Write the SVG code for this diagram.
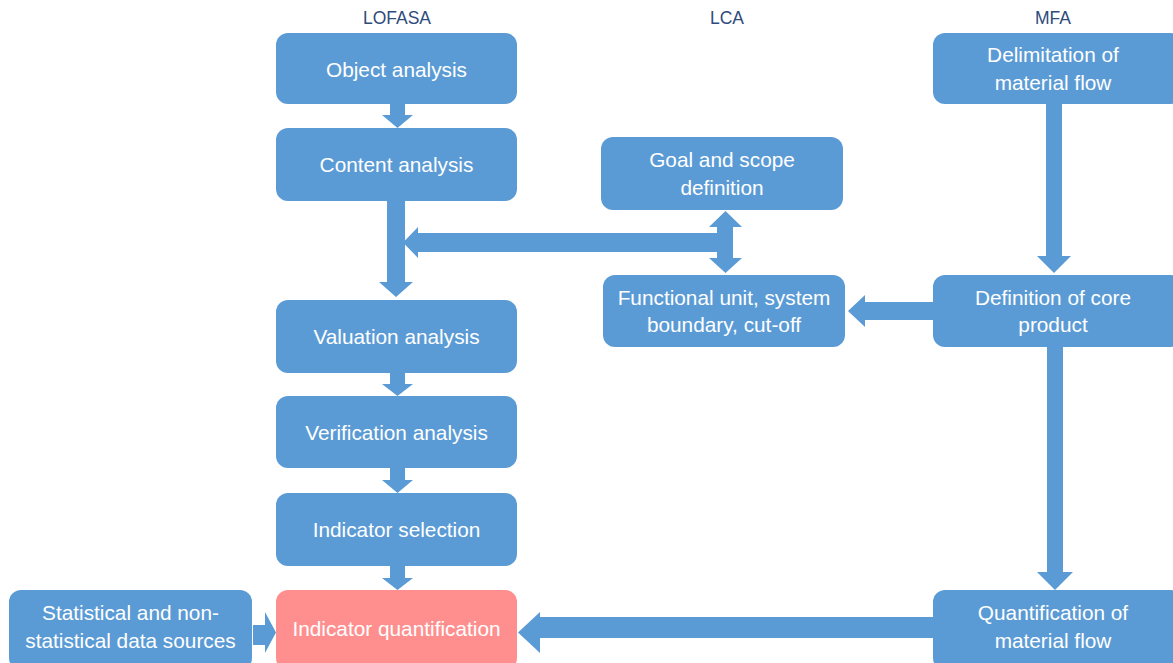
<svg xmlns="http://www.w3.org/2000/svg" width="1173" height="663" viewBox="0 0 1173 663">
<style>
.box{fill:#5B9BD5;}
.pink{fill:#FF8F8F;}
.t{font-family:"Liberation Sans",Arial,sans-serif;font-size:20.8px;fill:#FFFFFF;text-anchor:middle;}
.h{font-family:"Liberation Sans",Arial,sans-serif;font-size:17.5px;fill:#2F4B7C;text-anchor:middle;}
.a{fill:#5B9BD5;}
</style>
<rect width="1173" height="663" fill="#FFFFFF"/>
<g id="headers">
<text class="h" x="397" y="24">LOFASA</text>
<text class="h" x="727" y="24">LCA</text>
<text class="h" x="1053" y="24">MFA</text>
</g>
<g id="connectors">
<polygon class="a" points="390,104 405,104 405,115 413,115 397.5,128 382,115 390,115"/>
<polygon class="a" points="387,201 405,201 405,282 413,282 396,297 379,282 387,282"/>
<polygon class="a" points="390,373 405,373 405,384 413,384 397.5,396 382,384 390,384"/>
<polygon class="a" points="390,468 405,468 405,480 413,480 397.5,493 382,480 390,480"/>
<polygon class="a" points="390,566 405,566 405,578 413,578 397.5,590 382,578 390,578"/>
<polygon class="a" points="733,233 733,252 418,252 418,258 403,242.5 418,227 418,233"/>
<polygon class="a" points="725.5,211 742,227 733,227 733,258 742,258 725.5,273 709,258 717,258 717,227 709,227"/>
<polygon class="a" points="933,302 933,320 865,320 865,327 848,311 865,295 865,302"/>
<polygon class="a" points="1046,104 1062,104 1062,256 1071,256 1054,273 1037,256 1046,256"/>
<polygon class="a" points="1047,347 1063,347 1063,572 1073,572 1055,590 1037,572 1047,572"/>
<polygon class="a" points="933,617 933,638 540,638 540,653 518,632.5 540,612 540,617"/>
<polygon class="a" points="253,625 265,625 265,612 276,632.5 265,653 265,645 253,645"/>
</g>
<g id="n-object"><rect class="box" x="276" y="33" width="241" height="71" rx="12"/><text class="t" x="396.5" y="77">Object analysis</text></g>
<g id="n-content"><rect class="box" x="276" y="128" width="241" height="73" rx="12"/><text class="t" x="396.5" y="172">Content analysis</text></g>
<g id="n-valuation"><rect class="box" x="276" y="300" width="241" height="73" rx="12"/><text class="t" x="396.5" y="344">Valuation analysis</text></g>
<g id="n-verification"><rect class="box" x="276" y="396" width="241" height="72" rx="12"/><text class="t" x="396.5" y="440">Verification analysis</text></g>
<g id="n-selection"><rect class="box" x="276" y="493" width="241" height="73" rx="12"/><text class="t" x="396.5" y="537">Indicator selection</text></g>
<g id="n-quant"><rect class="pink" x="276" y="590" width="241" height="80" rx="12"/><text class="t" x="396.5" y="636">Indicator quantification</text></g>
<g id="n-stat"><rect class="box" x="9" y="590" width="243" height="80" rx="12"/><text class="t" x="130.5" y="620">Statistical and non-</text><text class="t" x="130.5" y="648">statistical data sources</text></g>
<g id="n-goal"><rect class="box" x="601" y="137" width="242" height="73" rx="12"/><text class="t" x="722" y="167">Goal and scope</text><text class="t" x="722" y="195">definition</text></g>
<g id="n-functional"><rect class="box" x="603" y="275" width="242" height="72" rx="12"/><text class="t" x="724" y="305">Functional unit, system</text><text class="t" x="724" y="332">boundary, cut-off</text></g>
<g id="n-delim"><rect class="box" x="933" y="33" width="250" height="71" rx="12"/><text class="t" x="1053" y="62">Delimitation of</text><text class="t" x="1053" y="90">material flow</text></g>
<g id="n-core"><rect class="box" x="933" y="275" width="250" height="72" rx="12"/><text class="t" x="1053" y="305">Definition of core</text><text class="t" x="1053" y="332">product</text></g>
<g id="n-qmf"><rect class="box" x="933" y="590" width="250" height="80" rx="12"/><text class="t" x="1053" y="620">Quantification of</text><text class="t" x="1053" y="648">material flow</text></g>
</svg>
